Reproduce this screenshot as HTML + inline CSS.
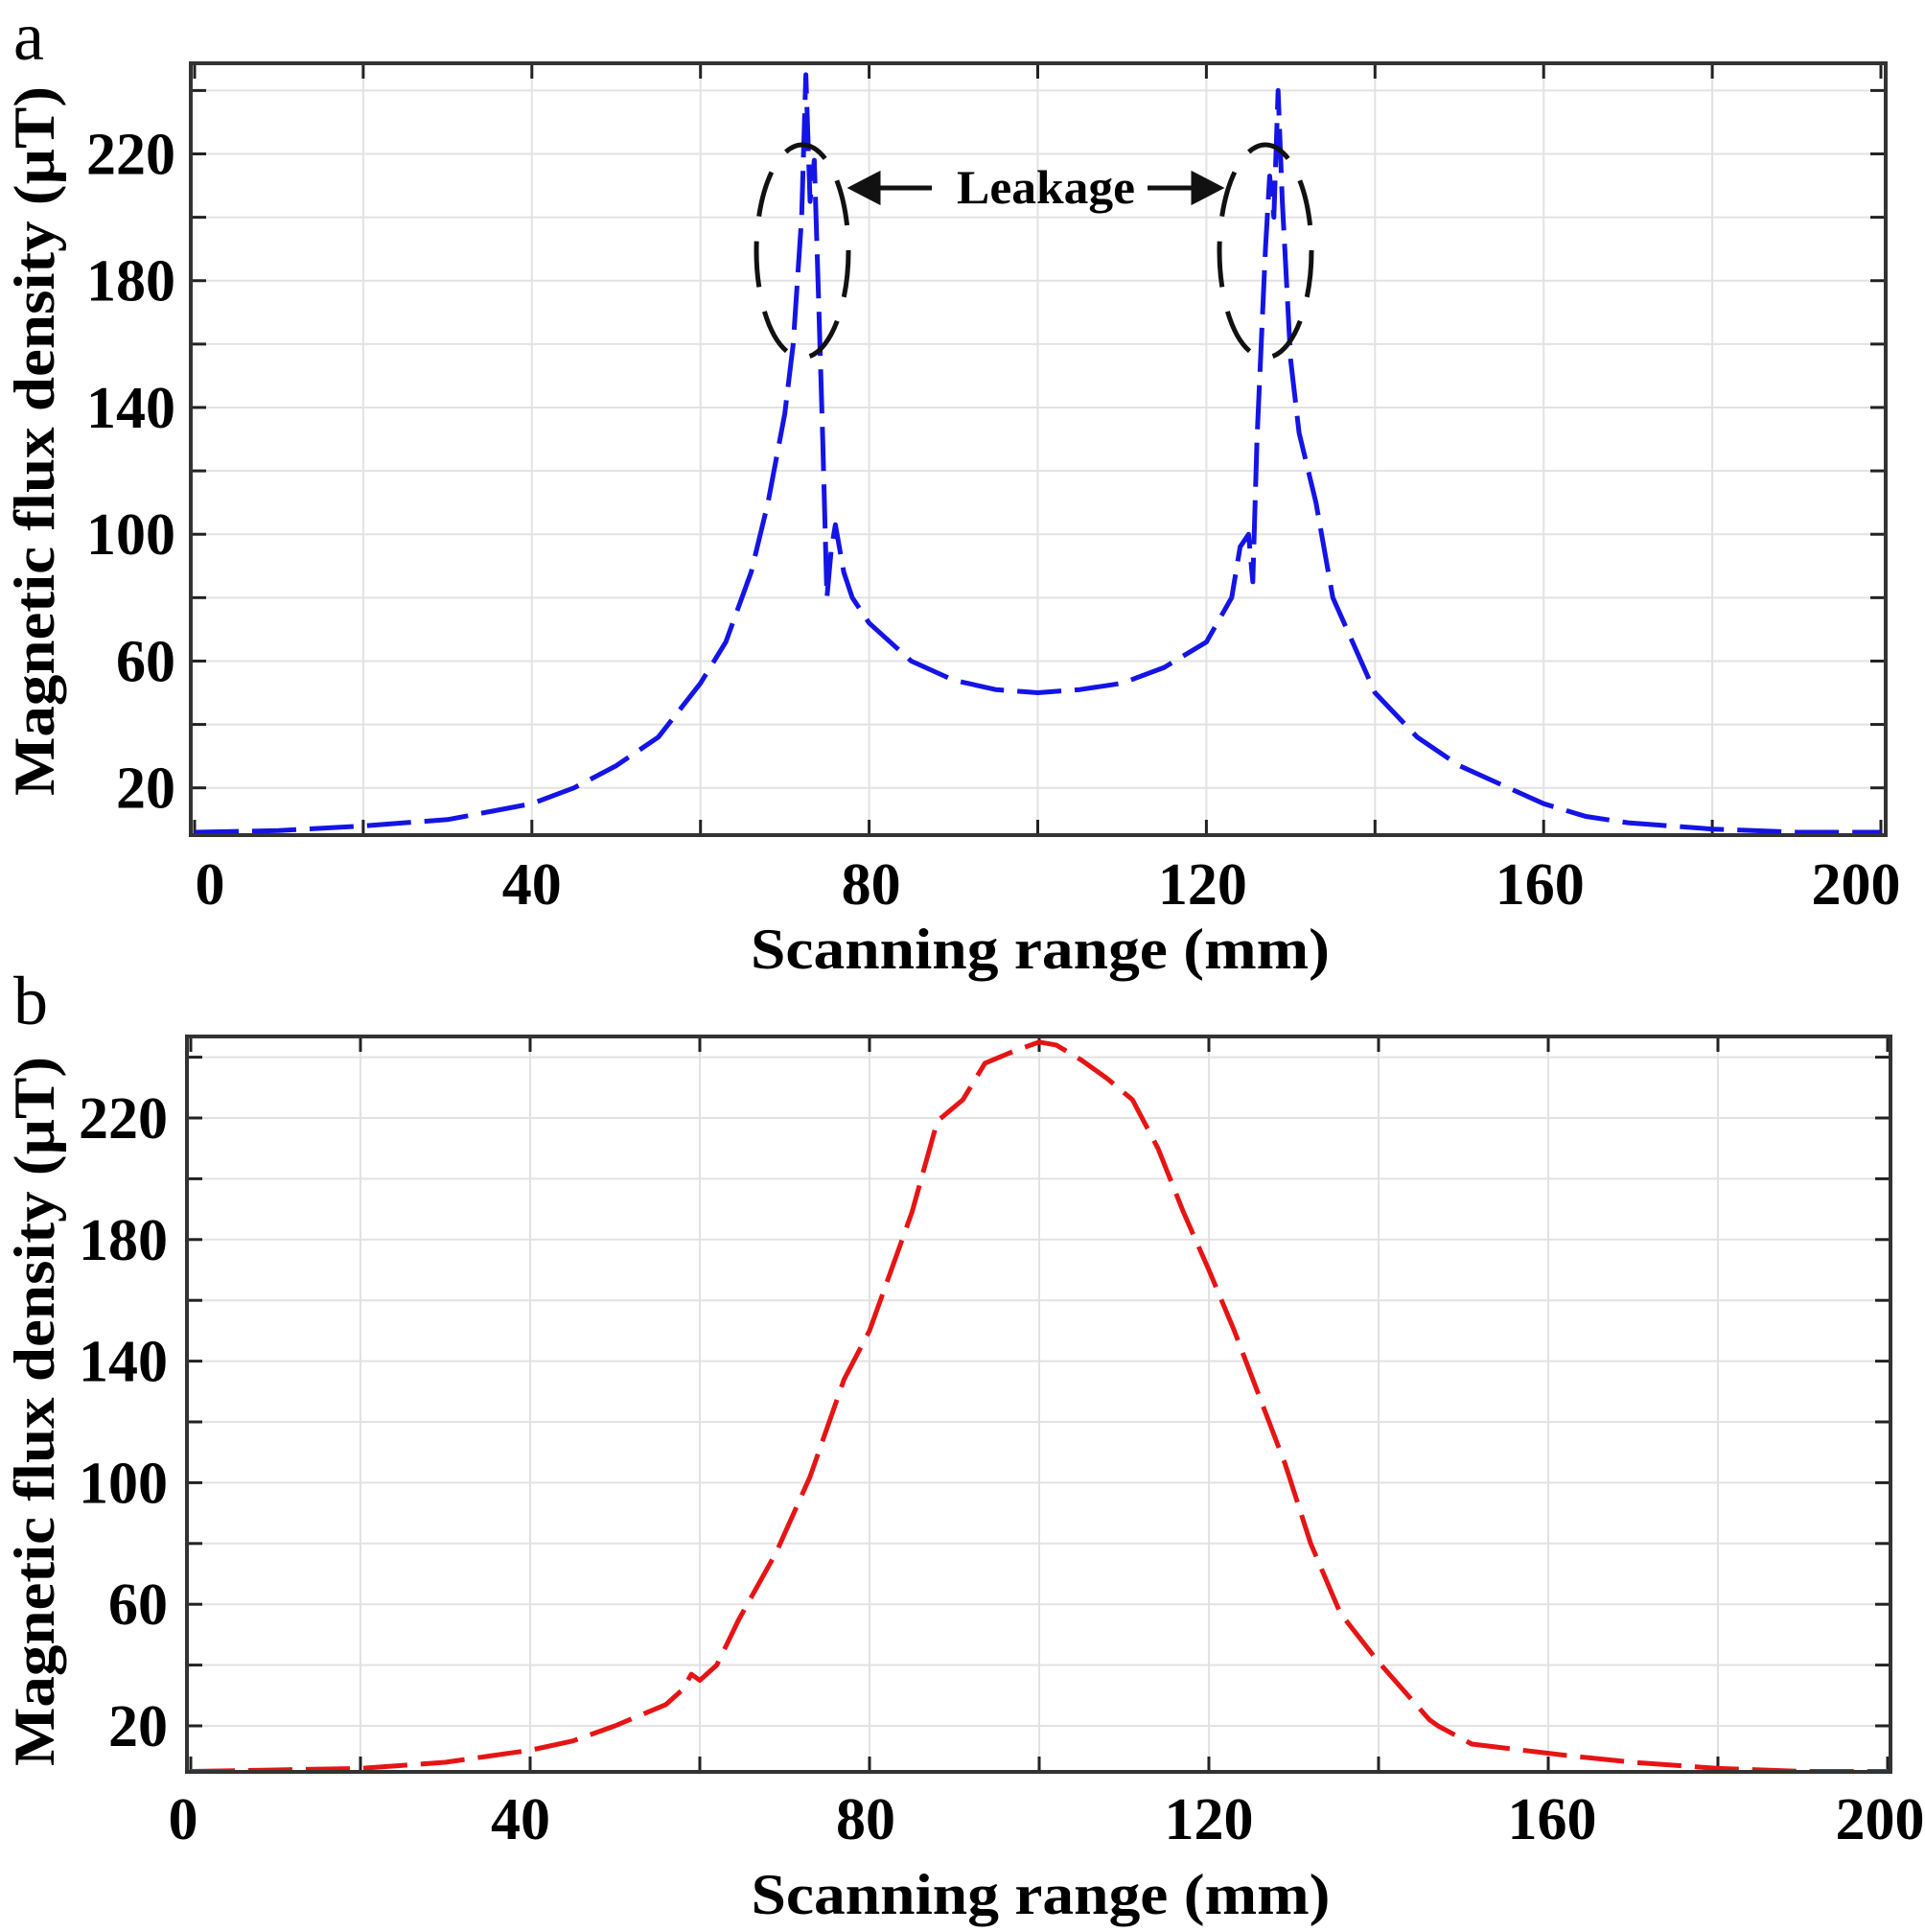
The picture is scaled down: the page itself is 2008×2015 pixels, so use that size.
<!DOCTYPE html>
<html><head><meta charset="utf-8"><style>
html,body{margin:0;padding:0;background:#fff;}
svg{display:block;}
text{font-family:"Liberation Serif",serif;}
</style></head>
<body>
<svg id="fig" width="2008" height="2015" viewBox="0 0 2008 2015" xmlns="http://www.w3.org/2000/svg">
<g id="pa"></g>
<g id="pb"></g>
</svg>
<script>
const xTicks = [0, 40, 80, 120, 160, 200];
const yTicks = [20, 60, 100, 140, 180, 220];
const aX = [0,10,20,30,40,45,50,55,60,63,66,68,70,71,72,72.5,73,73.5,74,74.5,75,75.5,76,77,78,80,85,90,95,100,105,110,115,120,123,124,125,125.5,126,127,127.5,128,128.5,129,130,131,133,135,138,140,145,150,155,160,165,170,180,190,200];
const aY = [6,6.5,8,10,15,20,27,36,53,66,88,110,138,160,200,245,205,218,175,130,80,95,103,88,80,72,60,54,51,50,51,53,58,66,80,96,100,85,130,190,213,200,240,205,155,132,110,80,62,50,36,27,21,15,11,9,7,6,6];
const bX = [0,10,20,30,40,45,50,56,58,59,60,62,64.6,69,73,77,80,85,88,91,93.6,97,100,102,105,108,111,114,117,120,123,126,129,132,135.5,140,146,147,151,157,163,170,180,190,200];
const bY = [5,5.5,6,8,12,15,20,27,32,37,35,40,55,77,102,134,150,189,219,226,238,242,245,244,239,233,226,210,189,170,150,128,106,80,57,41,22,20,14,12,10,8,6,5,5];

const NS = "http://www.w3.org/2000/svg";
function mk(parent, tag, attrs, txt){
  const e = document.createElementNS(NS, tag);
  for (const k in attrs) e.setAttribute(k, attrs[k]);
  if (txt !== undefined) e.textContent = txt;
  parent.appendChild(e);
  return e;
}
function panel(g, cfg){
  const sx = v => cfg.x0 + (v - 0) * (cfg.x200 - cfg.x0) / 200;
  const sy = v => cfg.y20 - (v - 20) * (cfg.y20 - cfg.y220) / 200;
  for (let v = 20; v < 200; v += 20) {
    const l = mk(g, 'line', {x1:sx(v), x2:sx(v), y1:cfg.top, y2:cfg.bottom, stroke:'#e2e2e2', 'stroke-width':2});
    
    
  }
  for (let v = 20; v <= 240; v += 20) {
    const l = mk(g, 'line', {x1:cfg.left, x2:cfg.right, y1:sy(v), y2:sy(v), stroke:'#e2e2e2', 'stroke-width':2});
    
    
  }
  for (let v = 0; v <= 200; v += 20) {
    const t1 = mk(g, 'line', {x1:sx(v), x2:sx(v), y1:cfg.bottom, y2:cfg.bottom-16, stroke:'#222', 'stroke-width':3});
    
    
    const t2 = mk(g, 'line', {x1:sx(v), x2:sx(v), y1:cfg.top, y2:cfg.top+16, stroke:'#222', 'stroke-width':3});
    
    
  }
  for (let v = 20; v <= 240; v += 20) {
    const t1 = mk(g, 'line', {x1:cfg.left, x2:cfg.left+16, y1:sy(v), y2:sy(v), stroke:'#222', 'stroke-width':3});
    
    
    const t2 = mk(g, 'line', {x1:cfg.right, x2:cfg.right-16, y1:sy(v), y2:sy(v), stroke:'#222', 'stroke-width':3});
    
    
  }
  let d = '';
  cfg.xs.forEach((x, i) => { d += (i ? 'L' : 'M') + sx(x).toFixed(1) + ',' + sy(cfg.ys[i]).toFixed(1); });
  const p = mk(g, 'path', {d:d, fill:'none', stroke:cfg.color, 'stroke-width':5, 'stroke-dasharray':'46 14', 'stroke-linejoin':'round'});
  
  
  const f = mk(g, 'rect', {x:cfg.left, y:cfg.top, width:cfg.right-cfg.left, height:cfg.bottom-cfg.top, fill:'none', stroke:'#333', 'stroke-width':4});
  
  
  xTicks.forEach((v, i) => {
    const t = mk(g, 'text', {x:sx(v) + cfg.xOff[i], y:cfg.xlabY, 'text-anchor':'middle', 'font-size':62, 'font-weight':'bold'}, String(v));
    
    
  });
  yTicks.forEach(v => {
    const t = mk(g, 'text', {x:cfg.ylabX, y:sy(v)+21, 'text-anchor':'end', 'font-size':62, 'font-weight':'bold'}, String(v));
    
    
  });
  const xt = mk(g, 'text', {x:(cfg.left+cfg.right)/2 + 2, y:cfg.xtitleY, 'text-anchor':'middle', 'font-size':60, 'font-weight':'bold', textLength:604, lengthAdjust:'spacingAndGlyphs'}, 'Scanning range (mm)');
  
  
  const cy = cfg.ytitleCY;
  const yt = mk(g, 'text', {x:0, y:0, transform:'translate(56,'+cy+') rotate(-90)', 'text-anchor':'middle', 'font-size':60, 'font-weight':'bold', textLength:740, lengthAdjust:'spacingAndGlyphs'}, 'Magnetic flux density (\u00b5T)');
  
  
  const pl = mk(g, 'text', {x:14, y:cfg.labelY, 'font-size':72}, cfg.label);
  
  
  return {sx, sy};
}
panel(document.getElementById('pa'), {
  left:199, right:1967, top:66, bottom:871, x0:203, x200:1962, y20:821.7, y220:160.5,
  xs:aX, ys:aY, color:'#1414e6', seriesName:'series-a-line', xlabY:943, ylabX:183, xtitleY:1010, label:'a', labelY:62,
  xOff:[16,0,2,-4,-4,-26], ytitleCY:460
});
panel(document.getElementById('pb'), {
  left:195, right:1972, top:1081, bottom:1848, x0:199, x200:1969, y20:1800, y220:1166,
  xs:bX, ys:bY, color:'#e61414', seriesName:'series-b-line', xlabY:1918, ylabX:175, xtitleY:1996, label:'b', labelY:1068,
  xOff:[-8,-10,-4,0,4,-8], ytitleCY:1472
});
const ga = document.getElementById('pa');
const e1 = mk(ga, 'ellipse', {cx:837, cy:262, rx:48, ry:111, fill:'none', stroke:'#111', 'stroke-width':5, 'stroke-dasharray':'48 26'});


const e2 = mk(ga, 'ellipse', {cx:1320, cy:262, rx:48, ry:111, fill:'none', stroke:'#111', 'stroke-width':5, 'stroke-dasharray':'48 26'});


const a1 = mk(ga, 'path', {d:'M972,196 L910,196 M889,196 L916,182 L916,210 Z', stroke:'#111', 'stroke-width':5, fill:'#111'});


const a2 = mk(ga, 'path', {d:'M1197,196 L1250,196 M1272,196 L1245,182 L1245,210 Z', stroke:'#111', 'stroke-width':5, fill:'#111'});


const lt = mk(ga, 'text', {x:1091, y:212, 'text-anchor':'middle', 'font-size':50, 'font-weight':'bold', textLength:186, lengthAdjust:'spacingAndGlyphs'}, 'Leakage');


</script>
</body></html>
